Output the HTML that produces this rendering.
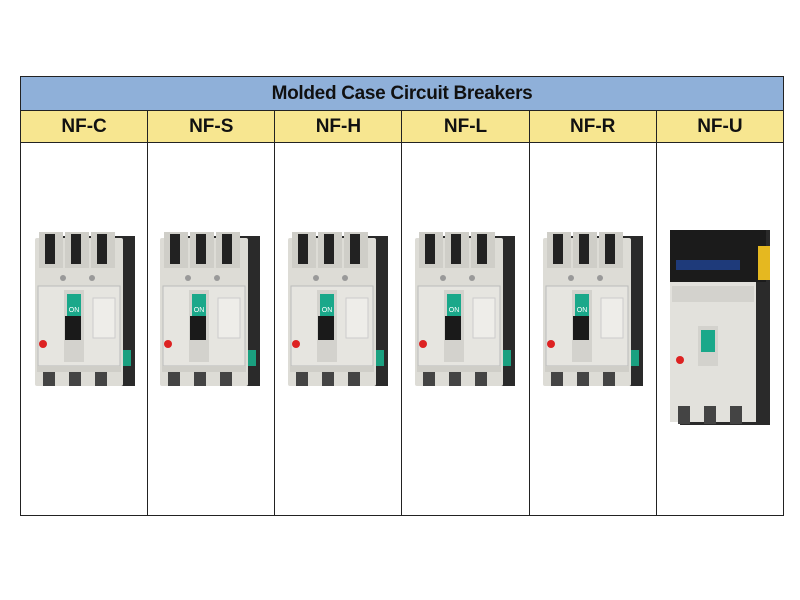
<!DOCTYPE html>
<html><head><style>
body{margin:0;background:#fff;width:800px;height:600px;overflow:hidden;font-family:"Liberation Sans",sans-serif}
table{position:absolute;left:20px;top:76px;border-collapse:collapse;width:764px}
td{border:1.5px solid #222;padding:0;text-align:center;font-weight:bold}
.h{background:#8fb0d9;height:33px;font-size:19px;color:#111;letter-spacing:-0.3px}
.y td{background:#f7e690;height:31px;font-size:19px;color:#111}
.b td{height:372px;background:#fff;width:127px}
svg{position:absolute}
</style></head><body>
<table>
<tr><td colspan="6" class="h">Molded Case Circuit Breakers</td></tr>
<tr class="y"><td>NF-C</td><td>NF-S</td><td>NF-H</td><td>NF-L</td><td>NF-R</td><td>NF-U</td></tr>
<tr class="b"><td></td><td></td><td></td><td></td><td></td><td></td></tr>
</table>
<svg width="800" height="600" style="left:0;top:0">
<defs>
<g id="br">
<rect x="10" y="4" width="90" height="150" fill="#2a2a2a"/>
<rect x="0" y="6" width="88" height="148" rx="2" fill="#dddcd6"/>
<rect x="4" y="0" width="24" height="36" fill="#cfcec8"/><rect x="10" y="2" width="10" height="30" fill="#222"/>
<rect x="30" y="0" width="24" height="36" fill="#cfcec8"/><rect x="36" y="2" width="10" height="30" fill="#222"/>
<rect x="56" y="0" width="24" height="36" fill="#cfcec8"/><rect x="62" y="2" width="10" height="30" fill="#222"/>
<circle cx="28" cy="46" r="3" fill="#999"/><circle cx="57" cy="46" r="3" fill="#999"/>
<rect x="3" y="54" width="82" height="80" fill="#e6e5e0" stroke="#bbb"/>
<rect x="29" y="58" width="20" height="72" fill="#d3d2cd"/>
<rect x="32" y="62" width="14" height="22" fill="#1aa88a"/>
<text x="39" y="80" font-size="7" fill="#fff" text-anchor="middle" font-family="Liberation Sans">ON</text>
<rect x="30" y="84" width="16" height="24" fill="#1a1a1a"/>
<rect x="58" y="66" width="22" height="40" fill="#eeede9" stroke="#ccc"/>
<circle cx="8" cy="112" r="4" fill="#d22"/>
<rect x="88" y="118" width="8" height="16" fill="#1aa080"/>
<rect x="2" y="134" width="84" height="6" fill="#cfcec8"/>
<rect x="8" y="140" width="12" height="14" fill="#444"/>
<rect x="34" y="140" width="12" height="14" fill="#444"/>
<rect x="60" y="140" width="12" height="14" fill="#444"/>
</g>
</defs>
<use href="#br" x="35" y="232"/>
<use href="#br" x="160" y="232"/>
<use href="#br" x="288" y="232"/>
<use href="#br" x="415" y="232"/>
<use href="#br" x="543" y="232"/>
<g transform="translate(670,230)">
<rect x="10" y="0" width="90" height="195" fill="#2a2a2a"/>
<rect x="0" y="0" width="96" height="52" fill="#1b1b1b"/>
<rect x="6" y="30" width="64" height="10" fill="#1e3a7a"/>
<rect x="88" y="16" width="12" height="34" fill="#e5b820"/>
<rect x="0" y="52" width="86" height="140" fill="#e2e1dc"/>
<rect x="2" y="56" width="82" height="16" fill="#d3d2cd"/>
<rect x="28" y="96" width="20" height="40" fill="#d3d2cd"/>
<rect x="31" y="100" width="14" height="22" fill="#1aa88a"/>
<circle cx="10" cy="130" r="4" fill="#d22"/>
<rect x="8" y="176" width="12" height="18" fill="#444"/>
<rect x="34" y="176" width="12" height="18" fill="#444"/>
<rect x="60" y="176" width="12" height="18" fill="#444"/>
</g>
</svg>
</body></html>
